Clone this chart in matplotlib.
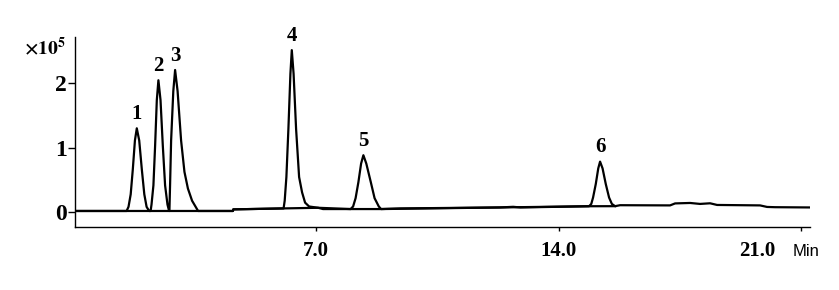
import matplotlib
matplotlib.use("Agg")
import matplotlib.pyplot as plt
from matplotlib.transforms import ScaledTranslation

# Chromatogram trace (time in min, signal in x10^5)
trace_time = [0.04, 1.530, 1.585, 1.648, 1.709, 1.770, 1.824, 1.894, 1.969, 2.041, 2.107, 2.180,
              2.223, 2.249, 2.304, 2.353, 2.402, 2.448, 2.509, 2.575, 2.641, 2.710, 2.757,
              2.766, 2.786, 2.815, 2.878, 2.930, 3.002, 3.103, 3.200, 3.300, 3.420, 3.594,
              4.60, 4.61, 6.062, 6.094, 6.143, 6.201, 6.259, 6.299, 6.351, 6.423, 6.510,
              6.596, 6.683, 6.799, 7.059,
              7.20, 7.997, 8.069, 8.141, 8.222, 8.300, 8.366, 8.450, 8.580, 8.689, 8.811, 8.877,
              9.43, 12.31, 12.69, 12.90, 14.882, 14.945, 14.997, 15.075, 15.147, 15.199,
              15.271, 15.364, 15.459, 15.540, 15.632,
              15.777, 17.220, 17.365, 17.798, 18.086, 18.375, 18.577, 19.818,
              20.020, 20.251, 21.261]
trace_signal = [0.01, 0.01, 0.075, 0.27, 0.66, 1.11, 1.30, 1.11, 0.66, 0.27, 0.075, 0.01,
                0.01, 0.11, 0.41, 1.03, 1.74, 2.05, 1.74, 1.03, 0.41, 0.11, 0.01,
                0.01, 0.44, 1.11, 1.88, 2.21, 1.88, 1.11, 0.62, 0.36, 0.17, 0.01,
                0.01, 0.035, 0.05, 0.17, 0.54, 1.29, 2.15, 2.52, 2.15, 1.29, 0.54,
                0.30, 0.14, 0.08, 0.06,
                0.04, 0.04, 0.08, 0.21, 0.46, 0.75, 0.88, 0.75, 0.46, 0.21, 0.08, 0.04,
                0.05, 0.065, 0.075, 0.065, 0.084, 0.12, 0.22, 0.43, 0.675, 0.78,
                0.675, 0.43, 0.22, 0.12, 0.085,
                0.10, 0.097, 0.128, 0.135, 0.12, 0.13, 0.104, 0.097,
                0.073, 0.069, 0.065]

# Baseline drawn under the peaks
baseline_time = [0.04, 4.60, 4.61, 6.062, 7.059, 7.997, 8.877, 14.882, 15.632]
baseline_signal = [0.01, 0.01, 0.035, 0.05, 0.06, 0.04, 0.04, 0.084, 0.085]

# Peak labels
peak_labels = ["1", "2", "3", "4", "5", "6"]
peak_rt = [1.824, 2.448, 2.930, 6.299, 8.366, 15.199]
peak_height = [1.30, 2.05, 2.21, 2.52, 0.88, 0.78]

x_ticks = [7.0, 14.0, 21.0]
x_ticklabels = ["7.0", "14.0", "21.0"]
y_ticks = [0, 1, 2]
y_ticklabels = ["0", "1", "2"]

plt.rcParams["mathtext.fontset"] = "stix"
serif = "Liberation Serif"

fig = plt.figure(figsize=(8.39, 2.90), dpi=100)
ax = fig.add_axes([75 / 839, 63 / 290, 735 / 839, 189.7 / 290])

ax.plot(baseline_time, baseline_signal, color="black", lw=1.6, solid_joinstyle="round")
ax.plot(trace_time, trace_signal, color="black", lw=1.6, solid_joinstyle="round")

for lab, t, h in zip(peak_labels, peak_rt, peak_height):
    ax.annotate(lab, xy=(t, h), xytext=(0, 3), textcoords="offset points",
                ha="center", va="bottom", fontsize=15, fontweight="bold",
                family=serif)

ax.set_xlim(0.04, 21.26)
ax.set_ylim(-0.24, 2.72)

for s in ["top", "right"]:
    ax.spines[s].set_visible(False)
for s in ["left", "bottom"]:
    ax.spines[s].set_linewidth(1.0)

ax.set_xticks(x_ticks)
ax.set_xticklabels(x_ticklabels, fontsize=15, fontweight="bold", family=serif)
ax.set_yticks(y_ticks)
ax.set_yticklabels(y_ticklabels, fontsize=17, fontweight="bold", family=serif)
ax.tick_params(axis="x", direction="out", length=3, width=1.0, pad=7)
ax.tick_params(axis="y", direction="out", length=5, width=1.0, pad=1)

# last x tick label sits left of its tick in the reference
last = ax.get_xticklabels()[-1]
last.set_transform(last.get_transform() + ScaledTranslation(-44 / 100, 0, fig.dpi_scale_trans))

ax.text(-0.012, 0.945, r"$\mathbf{\times 10^5}$", transform=ax.transAxes, ha="right",
        va="center", fontsize=14)
fig.text(793 / 839, 1 - 252 / 290, "Min", ha="left", va="center", fontsize=12,
         family="Liberation Sans")

fig.savefig("out.png", dpi=100)
